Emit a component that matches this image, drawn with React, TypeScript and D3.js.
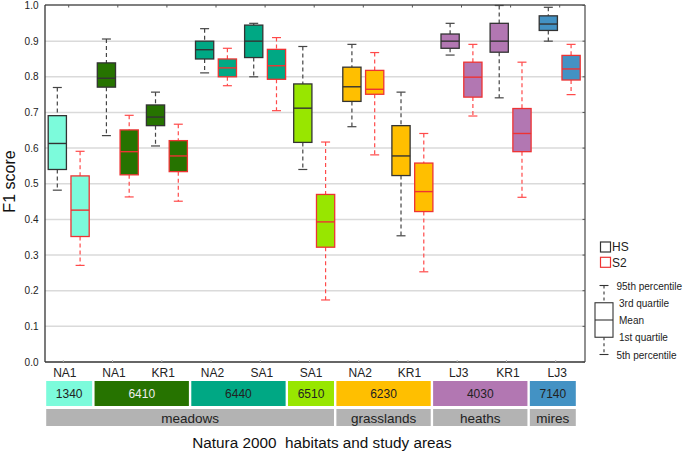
import React from "react";
import * as d3 from "d3";

// ---- data ----
const areaLabels = ["NA1", "NA1", "KR1", "NA2", "SA1", "SA1", "NA2", "KR1", "LJ3", "KR1", "LJ3"];
const habitatOfCat = ["1340", "6410", "6410", "6440", "6440", "6510", "6230", "6230", "4030", "4030", "7140"];
const habitatCodes = ["1340", "6410", "6440", "6510", "6230", "4030", "7140"];
const habitatColors = ["#7CFBDB", "#267300", "#00A884", "#98E600", "#FFBF00", "#B277B2", "#4392C4"];
const habitatTextColors = ["#222", "#eee", "#222", "#222", "#222", "#222", "#222"];
const typeNames = ["meadows", "grasslands", "heaths", "mires"];
const typeOfHabitat = ["meadows", "meadows", "meadows", "meadows", "grasslands", "heaths", "mires"];
const yTicks = [0, 0.1, 0.2, 0.3, 0.4, 0.5, 0.6, 0.7, 0.8, 0.9, 1.0];
const seriesNames = ["HS", "S2"];

// HS series (95th pct, Q3, mean, Q1, 5th pct)
const hsHigh = [0.770, 0.906, 0.757, 0.935, 0.950, 0.885, 0.891, 0.757, 0.950, 1.000, 0.995];
const hsQ3 = [0.691, 0.839, 0.721, 0.900, 0.945, 0.780, 0.827, 0.663, 0.920, 0.950, 0.971];
const hsMid = [0.613, 0.796, 0.687, 0.876, 0.900, 0.712, 0.772, 0.578, 0.900, 0.900, 0.948];
const hsQ1 = [0.540, 0.771, 0.663, 0.850, 0.854, 0.616, 0.731, 0.523, 0.880, 0.869, 0.930];
const hsLow = [0.482, 0.635, 0.606, 0.811, 0.800, 0.540, 0.660, 0.354, 0.861, 0.741, 0.900];

// S2 series
const s2High = [0.591, 0.692, 0.667, 0.880, 0.910, 0.617, 0.868, 0.641, 0.891, 0.841, 0.891];
const s2Q3 = [0.522, 0.651, 0.621, 0.850, 0.877, 0.470, 0.818, 0.558, 0.841, 0.711, 0.860];
const s2Mid = [0.426, 0.590, 0.578, 0.825, 0.831, 0.393, 0.765, 0.478, 0.799, 0.641, 0.822];
const s2Q1 = [0.352, 0.525, 0.534, 0.800, 0.793, 0.322, 0.751, 0.422, 0.743, 0.590, 0.791];
const s2Low = [0.271, 0.463, 0.451, 0.775, 0.705, 0.174, 0.581, 0.253, 0.690, 0.462, 0.750];

const legendItems = ["95th percentile", "3rd quartile", "Mean", "1st quartile", "5th percentile"];

const FONT = "'Liberation Sans', Arial, sans-serif";

export default function App() {
  const W = 685, H = 453;
  const left = 45, right = 585, top = 5, bottom = 362;
  const idx = areaLabels.map((_, i) => i);

  const y = d3.scaleLinear().domain([0, 1]).range([bottom, top + 0.5]);
  const xBox = d3.scalePoint<number>().domain(idx).range([68.7, 559.7]);
  const xSub = d3.scaleBand<string>().domain(seriesNames).range([-20.5, 20.5]).paddingInner(0.2);
  const xAxisTicks = d3.scalePoint<number>().domain(idx).range([63.3, 555.7]);
  const xStrip = d3.scaleBand<number>().domain(idx).range([45, 577]);

  const series = [
    { name: "HS", high: hsHigh, q3: hsQ3, mid: hsMid, q1: hsQ1, low: hsLow, stroke: "#333", whisker: "#444" },
    { name: "S2", high: s2High, q3: s2Q3, mid: s2Mid, q1: s2Q1, low: s2Low, stroke: "#EE3333", whisker: "#FF4A4A" },
  ];

  const bw = xSub.bandwidth();
  const capW = 9;

  // habitat groups spans
  const habitatSpans = habitatCodes.map((code, k) => {
    const cats = idx.filter((i) => habitatOfCat[i] === code);
    return { code, k, start: d3.min(cats)!, end: d3.max(cats)! };
  });
  const typeSpans = typeNames.map((t) => {
    const hs = habitatSpans.filter((h) => typeOfHabitat[h.k] === t);
    return { t, start: d3.min(hs, (h) => h.start)!, end: d3.max(hs, (h) => h.end)! };
  });
  const spanX = (s: number, e: number) => {
    const x0 = xStrip(s)! + 1.2;
    const x1 = xStrip(e)! + xStrip.bandwidth() - 1.2;
    return [x0, x1];
  };

  // legend box
  const lgX = 604, lgW = 18;
  const lgY = d3.scaleLinear().domain([0, 4]).range([285.5, 354.5]);

  return (
    <svg width={W} height={H} style={{ position: "absolute", left: 0, top: 0, background: "#fff" }} fontFamily={FONT}>
      {/* grid */}
      {yTicks.slice(1, -1).map((t) => (
        <line key={"g" + t} x1={left} x2={right} y1={y(t)} y2={y(t)} stroke="#dadada" strokeWidth={1.5} />
      ))}
      {/* frame */}
      <line x1={left} x2={right} y1={top} y2={top} stroke="#555" strokeWidth={1.3} />
      <line x1={right} x2={right} y1={top} y2={bottom} stroke="#555" strokeWidth={1.3} />
      <line x1={left} x2={right} y1={bottom} y2={bottom} stroke="#333" strokeWidth={1.3} />
      <line x1={left} x2={left} y1={top} y2={bottom} stroke="#333" strokeWidth={1.3} />
      {/* top ticks */}
      {idx.map((i) => (
        <line key={"tt" + i} x1={xBox(i)!} x2={xBox(i)!} y1={top} y2={top + 2.5} stroke="#555" strokeWidth={1} />
      ))}
      {/* right ticks */}
      {yTicks.map((t) => (
        <line key={"rt" + t} x1={right - 2.5} x2={right} y1={y(t)} y2={y(t)} stroke="#555" strokeWidth={1} />
      ))}
      {/* y tick labels */}
      {yTicks.map((t) => (
        <text key={"yl" + t} x={38.5} y={y(t)} dy="0.35em" textAnchor="end" fontSize={10} fill="#222">
          {t.toFixed(1)}
        </text>
      ))}
      {/* bottom ticks */}
      {idx.map((i) => (
        <line key={"bt" + i} x1={xAxisTicks(i)!} x2={xAxisTicks(i)!} y1={bottom - 2} y2={bottom} stroke="#bbb" strokeWidth={1} />
      ))}
      {/* boxes */}
      {series.map((s) =>
        idx.map((i) => {
          const cx = xBox(i)! + xSub(s.name)! + bw / 2;
          const x0 = cx - bw / 2;
          const fill = habitatColors[habitatCodes.indexOf(habitatOfCat[i])];
          return (
            <g key={s.name + i}>
              <line x1={cx} x2={cx} y1={y(s.high[i])} y2={y(s.q3[i])} stroke={s.whisker} strokeWidth={1.2} strokeDasharray="4,3" />
              <line x1={cx} x2={cx} y1={y(s.q1[i])} y2={y(s.low[i])} stroke={s.whisker} strokeWidth={1.2} strokeDasharray="4,3" />
              <line x1={cx - capW / 2} x2={cx + capW / 2} y1={y(s.high[i])} y2={y(s.high[i])} stroke={s.whisker} strokeWidth={1.2} />
              <line x1={cx - capW / 2} x2={cx + capW / 2} y1={y(s.low[i])} y2={y(s.low[i])} stroke={s.whisker} strokeWidth={1.2} />
              <rect x={x0} y={y(s.q3[i])} width={bw} height={y(s.q1[i]) - y(s.q3[i])} fill={fill} stroke={s.stroke} strokeWidth={1.3} />
              <line x1={x0} x2={x0 + bw} y1={y(s.mid[i])} y2={y(s.mid[i])} stroke={s.stroke} strokeWidth={1.4} />
            </g>
          );
        })
      )}
      {/* category labels */}
      {idx.map((i) => (
        <text key={"cl" + i} x={xAxisTicks(i)! + 1.5} y={373} dy="0.35em" textAnchor="middle" fontSize={12} fill="#222">
          {areaLabels[i]}
        </text>
      ))}
      {/* habitat strip */}
      {habitatSpans.map((h) => {
        const [x0, x1] = spanX(h.start, h.end);
        return (
          <g key={"h" + h.code}>
            <rect x={x0} y={381} width={x1 - x0} height={25} fill={habitatColors[h.k]} />
            <text x={(x0 + x1) / 2} y={394} dy="0.35em" textAnchor="middle" fontSize={12} fill={habitatTextColors[h.k]}>
              {h.code}
            </text>
          </g>
        );
      })}
      {/* type strip */}
      {typeSpans.map((t) => {
        const [x0, x1] = spanX(t.start, t.end);
        return (
          <g key={"t" + t.t}>
            <rect x={x0} y={409} width={x1 - x0} height={17} fill="#B3B3B3" />
            <text x={(x0 + x1) / 2} y={418} dy="0.35em" textAnchor="middle" fontSize={13.5} fill="#222">
              {t.t}
            </text>
          </g>
        );
      })}
      {/* axis titles */}
      <text x={322} y={443} dy="0.35em" textAnchor="middle" fontSize={15.3} fill="#111" style={{ whiteSpace: "pre" }}>
        {"Natura 2000  habitats and study areas"}
      </text>
      <text transform="translate(9.5,181.5) rotate(-90)" textAnchor="middle" dy="0.35em" fontSize={16} fill="#111">
        F1 score
      </text>
      {/* series legend */}
      {seriesNames.map((n, k) => (
        <g key={"sl" + n}>
          <rect x={600.5} y={242 + k * 15.3} width={10} height={10} fill="#fff" stroke={k === 0 ? "#333" : "#EE3333"} strokeWidth={1.2} />
          <text x={612} y={247 + k * 15.3} dy="0.35em" fontSize={12} fill="#222">
            {n}
          </text>
        </g>
      ))}
      {/* box legend */}
      <line x1={lgX - 4.5} x2={lgX + 4.5} y1={lgY(0)} y2={lgY(0)} stroke="#333" strokeWidth={1.1} />
      <line x1={lgX - 4.5} x2={lgX + 4.5} y1={lgY(4)} y2={lgY(4)} stroke="#333" strokeWidth={1.1} />
      <line x1={lgX} x2={lgX} y1={lgY(0)} y2={lgY(1)} stroke="#333" strokeWidth={1.1} strokeDasharray="3,3" />
      <line x1={lgX} x2={lgX} y1={lgY(3)} y2={lgY(4)} stroke="#333" strokeWidth={1.1} strokeDasharray="3,3" />
      <rect x={lgX - lgW / 2} y={lgY(1)} width={lgW} height={lgY(3) - lgY(1)} fill="#fff" stroke="#333" strokeWidth={1.1} />
      <line x1={lgX - lgW / 2} x2={lgX + lgW / 2} y1={lgY(2)} y2={lgY(2)} stroke="#333" strokeWidth={1.1} />
      {legendItems.map((t, k) => (
        <text key={"li" + k} x={k === 0 || k === 4 ? 616.5 : 619} y={lgY(k) + 0.5} dy="0.35em" fontSize={10} fill="#222">
          {t}
        </text>
      ))}
    </svg>
  );
}
